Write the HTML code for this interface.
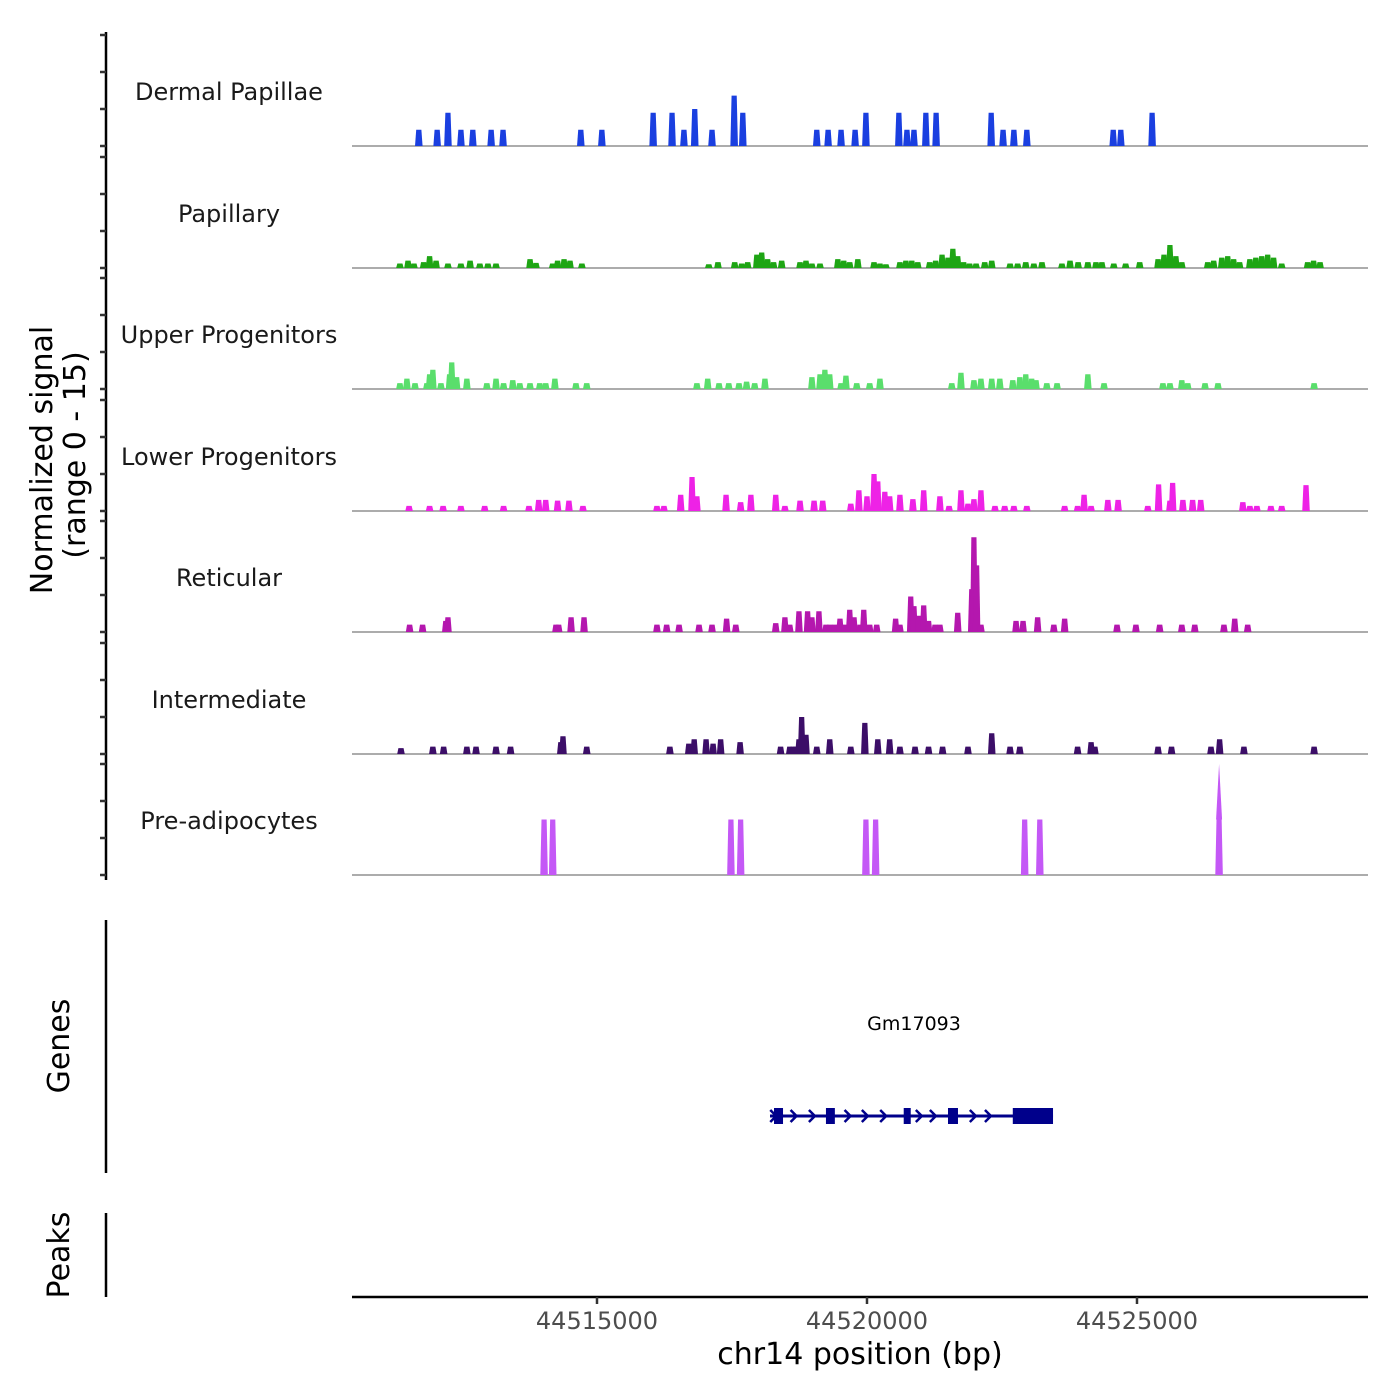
<!DOCTYPE html>
<html><head><meta charset="utf-8"><style>
html,body{margin:0;padding:0;background:#fff;}
svg{display:block;font-family:"DejaVu Sans","Liberation Sans",sans-serif;}
</style></head><body>
<svg id="chart" width="1400" height="1400" viewBox="0 0 1400 1400">
<g id="tracks"></g>
<g>
<text x="52" y="460" font-size="30" text-anchor="middle" transform="rotate(-90 52 460)" fill="#000">Normalized signal</text>
<text x="85" y="455" font-size="30" text-anchor="middle" transform="rotate(-90 85 455)" fill="#000">(range 0 - 15)</text>
</g>
<line x1="106" y1="32" x2="106" y2="880" stroke="#000" stroke-width="2.5"/>
<g id="yticks"></g>
<line x1="106" y1="920" x2="106" y2="1173" stroke="#000" stroke-width="2.5"/>
<text x="69" y="1046" font-size="30" text-anchor="middle" transform="rotate(-90 69 1046)">Genes</text>
<line x1="106" y1="1213" x2="106" y2="1297" stroke="#000" stroke-width="2.5"/>
<text x="69" y="1255" font-size="30" text-anchor="middle" transform="rotate(-90 69 1255)">Peaks</text>
<g id="gene"></g>
<line x1="352" y1="1297" x2="1368" y2="1297" stroke="#000" stroke-width="2.5"/>
<g id="xticks"></g>
<text x="860" y="1364" font-size="30" text-anchor="middle">chr14 position (bp)</text>
</svg>
<script>
// positions in kb offset from 44,500,000 bp
const originBp = 44500000;
const xDomainBp = [44510463, 44529278];
const xTicksBp = [44515000, 44520000, 44525000];
const xTickLabels = ["44515000", "44520000", "44525000"];
const trackNames = ["Dermal Papillae","Papillary","Upper Progenitors","Lower Progenitors","Reticular","Intermediate","Pre-adipocytes"];
const trackColors = ["#1a3fe0","#1ea514","#5ade6c","#ee22e6","#b417ae","#3c0e68","#c458f6"];
const yTicks = [0,5,10,15];

const dermalPos = [11.70,12.04,12.24,12.48,12.70,13.04,13.26,14.70,15.09,16.04,16.39,16.61,16.81,17.13,17.54,17.70,19.07,19.28,19.52,19.78,19.98,20.59,20.74,20.87,21.09,21.28,22.30,22.52,22.72,22.96,24.56,24.70,25.28];
const dermalVal = [2.2,2.2,4.5,2.2,2.2,2.2,2.2,2.2,2.2,4.5,4.5,2.2,5.0,2.2,6.8,4.5,2.2,2.2,2.2,2.2,4.5,4.5,2.2,2.2,4.5,4.5,4.5,2.2,2.2,2.2,2.2,2.2,4.5];

const papPos = [11.35,11.50,11.61,11.79,11.90,12.02,12.24,12.48,12.65,12.83,12.98,13.13,13.76,13.87,14.18,14.27,14.39,14.50,14.72,17.07,17.24,17.55,17.68,17.79,17.96,18.05,18.16,18.27,18.42,18.76,18.87,18.98,19.13,19.46,19.57,19.68,19.83,20.13,20.24,20.35,20.61,20.72,20.83,20.94,21.16,21.27,21.39,21.50,21.59,21.68,21.79,21.90,22.02,22.18,22.31,22.65,22.79,22.94,23.09,23.24,23.61,23.76,23.91,24.09,24.24,24.35,24.57,24.79,25.05,25.39,25.50,25.61,25.72,25.83,26.31,26.42,26.57,26.68,26.79,26.90,27.09,27.20,27.31,27.42,27.53,27.68,28.16,28.27,28.39];
const papVal = [0.6,1.0,0.6,0.8,1.6,1.0,0.6,0.6,1.0,0.6,0.6,0.6,1.2,0.7,0.6,1.0,1.2,1.0,0.6,0.5,0.8,0.8,0.6,0.8,1.8,2.1,1.2,0.8,1.0,0.8,1.0,0.6,0.6,1.2,1.0,0.8,1.2,0.8,0.6,0.5,0.8,1.0,1.0,0.8,0.8,1.0,1.8,1.4,2.6,1.6,0.8,0.6,0.6,0.8,1.0,0.6,0.6,0.8,0.6,0.8,0.6,1.0,0.8,0.8,0.8,0.8,0.6,0.6,0.8,1.2,1.8,3.1,1.6,0.8,0.8,1.0,1.4,1.6,1.2,0.8,1.2,1.4,1.6,1.8,1.4,0.6,0.8,1.0,0.8];

const upperPos = [11.35,11.48,11.63,11.85,11.90,11.96,12.11,12.27,12.31,12.40,12.59,12.96,13.13,13.27,13.44,13.57,13.76,13.94,14.05,14.22,14.61,14.81,16.85,17.05,17.26,17.44,17.63,17.77,17.92,18.11,18.98,19.13,19.22,19.31,19.52,19.61,19.81,20.05,20.24,21.57,21.74,21.98,22.11,22.31,22.46,22.70,22.83,22.94,23.05,23.13,23.33,23.52,24.09,24.39,25.48,25.61,25.83,25.94,26.26,26.50,28.28];
const upperVal = [0.8,1.4,0.8,0.8,2.0,2.6,0.8,2.0,3.6,1.6,1.4,0.8,1.4,0.8,1.2,0.8,0.8,0.8,0.8,1.4,0.8,0.8,0.8,1.4,0.8,0.8,0.8,1.0,0.8,1.4,1.6,2.0,2.6,2.0,0.8,1.8,0.8,0.8,1.4,0.8,2.2,1.2,1.4,1.4,1.4,1.2,1.6,2.0,1.4,1.2,0.8,0.8,2.0,0.8,0.8,0.8,1.2,0.8,0.8,0.8,0.8];

const lowerPos = [11.52,11.90,12.15,12.48,12.92,13.27,13.74,13.92,14.05,14.27,14.48,14.74,16.11,16.24,16.55,16.76,16.85,17.39,17.66,17.85,18.31,18.48,18.76,19.02,19.18,19.70,19.85,20.00,20.13,20.20,20.33,20.42,20.61,20.85,21.05,21.35,21.52,21.74,21.87,21.98,22.11,22.37,22.55,22.72,22.96,23.66,23.90,24.02,24.15,24.46,24.65,25.20,25.40,25.61,25.66,25.85,26.03,26.18,26.96,27.09,27.22,27.48,27.68,28.13];
const lowerVal = [0.7,0.7,0.7,0.7,0.7,0.7,0.7,1.5,1.5,1.4,1.4,0.7,0.7,0.7,2.2,4.6,2.0,2.2,1.2,2.2,2.2,0.7,1.4,1.4,1.4,1.0,2.8,2.0,5.0,4.0,2.6,2.0,2.2,1.6,2.8,2.0,0.7,2.8,1.0,1.6,2.8,0.7,0.7,0.7,0.7,0.7,0.7,2.2,0.7,1.5,1.5,0.7,3.6,1.4,3.8,1.5,1.5,1.5,1.2,0.7,0.7,0.7,0.7,3.5];

const retPos = [11.53,11.77,12.20,12.24,14.24,14.29,14.52,14.76,16.11,16.29,16.52,16.89,17.13,17.40,17.57,18.31,18.48,18.57,18.74,18.90,18.98,19.11,19.24,19.31,19.40,19.50,19.59,19.68,19.76,19.87,19.94,20.05,20.18,20.53,20.61,20.81,20.87,20.96,21.05,21.14,21.26,21.35,21.68,21.94,21.98,22.03,22.11,22.76,22.89,23.16,23.46,23.66,24.63,24.98,25.42,25.83,26.07,26.61,26.81,27.05];
const retVal = [1.0,1.0,1.5,2.0,1.0,1.0,2.0,2.0,1.0,1.0,1.0,1.0,1.0,1.8,1.0,1.2,2.0,1.0,2.8,2.8,2.0,2.8,1.0,1.0,1.0,1.8,1.0,3.0,2.0,1.0,3.0,1.0,1.0,1.8,1.0,4.8,3.5,2.2,3.6,1.5,1.0,1.0,2.6,5.8,12.8,9.0,1.0,1.5,1.5,2.0,1.0,1.8,1.0,1.0,1.0,1.0,1.0,1.0,1.8,1.0];

const interPos = [11.37,11.96,12.16,12.59,12.76,13.13,13.40,14.33,14.37,14.81,16.35,16.70,16.80,17.02,17.15,17.29,17.65,18.40,18.57,18.63,18.68,18.74,18.79,18.87,19.07,19.31,19.70,19.96,20.20,20.42,20.61,20.89,21.14,21.40,21.87,22.31,22.65,22.83,23.90,24.15,24.22,25.39,25.64,26.37,26.53,26.98,28.28];
const interVal = [0.8,1.0,1.0,1.0,1.0,1.0,1.0,1.6,2.4,1.0,1.0,1.4,2.0,2.0,1.4,2.0,1.6,1.0,1.0,1.0,1.0,2.0,5.0,2.6,1.0,2.0,1.0,4.2,2.0,2.0,1.0,1.0,1.0,1.0,1.0,2.8,1.0,1.0,1.0,1.6,1.0,1.0,1.0,1.0,2.0,1.0,1.0];

const prePos = [14.02,14.18,17.48,17.66,19.98,20.16,22.92,23.20,26.52];
const preVal = [7.5,7.5,7.5,7.5,7.5,7.5,7.5,7.5,7.5];
const preSpikePos = [26.52];
const preSpikeVal = [15];

const trackPos = [dermalPos,papPos,upperPos,lowerPos,retPos,interPos,prePos];
const trackVal = [dermalVal,papVal,upperVal,lowerVal,retVal,interVal,preVal];

const plotX0 = 352, plotX1 = 1368;
const baselines = [146,268,389,511,632,754,875];
const pxPerUnit = 111/15;
const binKb = 0.14;
const NS = "http://www.w3.org/2000/svg";
function xScale(bp){ return plotX0 + (bp - xDomainBp[0])/(xDomainBp[1]-xDomainBp[0])*(plotX1-plotX0); }
function kbToBp(k){ return originBp + k*1000; }
function yScale(v, b){ return b - v*pxPerUnit; }
function mk(tag, attrs){ const e=document.createElementNS(NS,tag); for(const k in attrs) e.setAttribute(k,attrs[k]); return e; }

const tracksG = document.getElementById('tracks');
const ytG = document.getElementById('yticks');
trackNames.forEach((name,i)=>{
  const b = baselines[i];
  const g = mk('g',{});
  
  
  const lbl = mk('text',{x:229,y:b-46,'font-size':24,'text-anchor':'middle',fill:'#1a1a1a'});
  lbl.textContent = name;
  
  
  g.appendChild(lbl);
  const base = mk('line',{x1:plotX0,x2:plotX1,y1:b,y2:b,stroke:'#7a7a7a','stroke-width':1.2});
  
  
  g.appendChild(base);
  const pos = trackPos[i], val = trackVal[i];
  pos.forEach((p,j)=>{
    const c = kbToBp(p);
    const xa = xScale(c - binKb*500), xb = xScale(c + binKb*500);
    const yt = yScale(val[j], b);
    const poly = mk('polygon',{points:`${xa},${b} ${xa+1.2},${yt} ${xb-1.2},${yt} ${xb},${b}`, fill:trackColors[i]});
    
    
    g.appendChild(poly);
  });
  if(i===6){
    preSpikePos.forEach((p,j)=>{
      const c = kbToBp(p), xc = xScale(c);
      const sp = mk('polygon',{points:`${xc-3},${yScale(7.5,b)} ${xc},${yScale(preSpikeVal[j],b)} ${xc+3},${yScale(7.5,b)}`, fill:trackColors[i]});
      
      
      g.appendChild(sp);
    });
  }
  tracksG.appendChild(g);
  yTicks.forEach(t=>{
    const y = yScale(t,b);
    const tk = mk('line',{x1:100,x2:106,y1:y,y2:y,stroke:'#333','stroke-width':2.5});
    
    
    ytG.appendChild(tk);
  });
});

// x ticks
const xtG = document.getElementById('xticks');
xTicksBp.forEach((t,i)=>{
  const x = xScale(t);
  const tk = mk('line',{x1:x,x2:x,y1:1297,y2:1304,stroke:'#333','stroke-width':2.5});
  
  
  xtG.appendChild(tk);
  const tl = mk('text',{x:x,y:1329,'font-size':24,'text-anchor':'middle',fill:'#4d4d4d'});
  tl.textContent = xTickLabels[i];
  
  
  xtG.appendChild(tl);
});

// gene model
const geneStartBp = 44518204, geneEndBp = 44523445;
const exonStartBp = [44518278, 44519240, 44520680, 44521500, 44522700];
const exonEndBp   = [44518445, 44519405, 44520810, 44521685, 44523445];
const arrowBp = [44518640,44518980,44519640,44519960,44520300,44520960,44521220,44521960,44522240];
const geneG = document.getElementById('gene');
const gy = 1116, gc = '#00008b';
const gl = mk('line',{x1:xScale(geneStartBp),x2:xScale(geneEndBp),y1:gy,y2:gy,stroke:gc,'stroke-width':3});


geneG.appendChild(gl);
exonStartBp.forEach((s,i)=>{
  const xa = xScale(s), xb = xScale(exonEndBp[i]);
  const r = mk('rect',{x:xa,y:gy-8,width:xb-xa,height:16,fill:gc});
  
  
  geneG.appendChild(r);
});
arrowBp.concat([geneStartBp+60]).forEach(a=>{
  const x = xScale(a);
  const p = mk('polyline',{points:`${x-3},${gy-6} ${x+3},${gy} ${x-3},${gy+6}`,fill:'none',stroke:gc,'stroke-width':2.5});
  
  
  geneG.appendChild(p);
});
const gn = mk('text',{x:914,y:1030,'font-size':19,'text-anchor':'middle',fill:'#000'});
gn.textContent = 'Gm17093';


geneG.appendChild(gn);
</script>
</body></html>
